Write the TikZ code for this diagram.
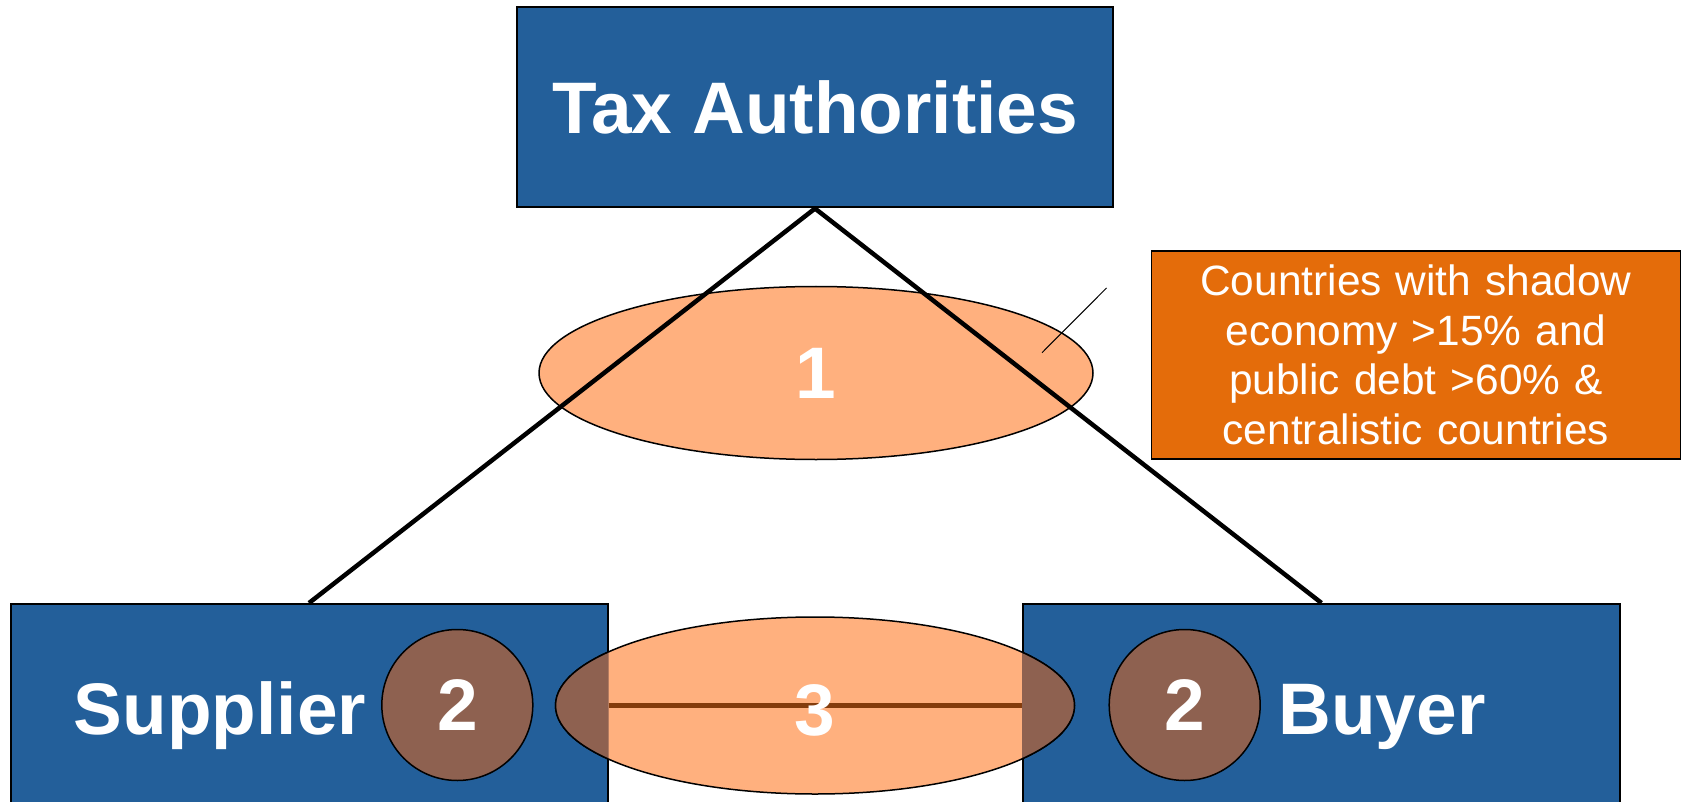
\documentclass[tikz,border=0pt]{standalone}
\usepackage{fontspec}
\setmainfont{Liberation Sans}
\usepackage{xcolor}
\usetikzlibrary{shapes.geometric}
\definecolor{boxblue}{HTML}{235F9A}
\definecolor{peach}{HTML}{FFB07E}
\definecolor{rust}{HTML}{8E6150}
\definecolor{noteorange}{HTML}{E46C0A}
\definecolor{linkbrown}{HTML}{843C0C}
\tikzset{
  actor/.style={draw=black, fill=boxblue, line width=2pt, minimum width=597pt, minimum height=203pt, inner sep=0pt},
  zone/.style={ellipse, draw=black, fill=peach, line width=1.5pt, inner sep=0pt},
  spot/.style={circle, draw=black, fill=rust, line width=1.5pt, minimum size=151pt, inner sep=0pt},
  big/.style={text=white, font=\fontsize{73}{80}\selectfont\bfseries, inner sep=0pt},
  note/.style={draw=black, fill=noteorange, line width=1.5pt, minimum width=529pt, minimum height=208pt, inner sep=0pt,
    text=white, text width=520pt, align=center, font=\fontsize{42.4}{49.5}\selectfont},
  tie/.style={draw=black, line width=4.5pt},
  link/.style={draw=linkbrown, line width=5.5pt},
  pointer/.style={draw=black, line width=1pt}
}
\begin{document}
\begin{tikzpicture}[x=1pt,y=-1pt]
  \useasboundingbox (0,0) rectangle (1686,802);

  % parties
  \node[actor, minimum width=596pt, minimum height=200pt, big] (tax) at (815,107.5) {Tax Authorities};
  \node[actor] (sup) at (309,705.5) {};
  \node[actor] (buy) at (1321.5,705.5) {};

  % zone 1 and the two ties
  \node[zone, minimum width=554pt, minimum height=173pt, big] (one) at (816,373) {1};
  \draw[tie] (tax.south) -- (sup.north);
  \draw[tie] (tax.south) -- (buy.north);

  % note with its pointer
  \node[note] (cond) at (1416,354.8) {Countries with shadow economy >15\% and public debt >60\% \& centralistic countries};
  \coordinate (tail) at (1106.5,288);
  \coordinate (tip) at (1042,352.7);
  \draw[pointer] (tail) -- (tip);

  % zone 3 between supplier and buyer
  \node[zone, minimum width=519pt, minimum height=177pt] (three) at (815,705.5) {};
  \begin{scope}
    \clip (sup.north west) rectangle (sup.south east) (buy.north west) rectangle (buy.south east);
    \filldraw[fill=rust, draw=black, line width=1.5pt] (three.center) ellipse [x radius=259.5pt, y radius=88.5pt];
  \end{scope}
  \draw[link] (sup.east) -- (buy.west);
  \node[big, anchor=base] (threelab) at (815,735) {3};

  % spots 2
  \node[spot, big] (twosup) at (457.3,705) {2};
  \node[spot, big] (twobuy) at (1184.7,705) {2};
  \node[big, anchor=base] (suplab) at (220,734) {Supplier};
  \node[big, anchor=base] (buylab) at (1382,734) {Buyer};
\end{tikzpicture}
\end{document}
